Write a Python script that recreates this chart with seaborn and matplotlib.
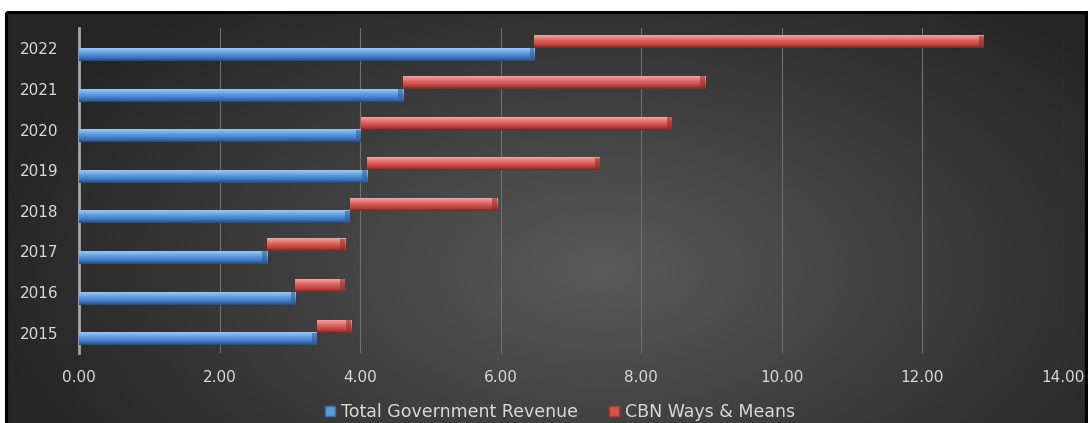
import numpy as np
import pandas as pd
import matplotlib
matplotlib.use("Agg")
import matplotlib.pyplot as plt
import seaborn as sns
from matplotlib.colors import LinearSegmentedColormap
from matplotlib.patches import Rectangle, Patch

# data
years = ["2015", "2016", "2017", "2018", "2019", "2020", "2021", "2022"]
revenue = [3.38, 3.08, 2.68, 3.85, 4.10, 4.01, 4.61, 6.48]
ways_means = [0.49, 0.71, 1.11, 2.10, 3.31, 4.42, 4.30, 6.40]
series = ["Total Government Revenue", "CBN Ways & Means"]
xticks = [0, 2, 4, 6, 8, 10, 12, 14]

df = pd.DataFrame({
    "year": years * 2,
    "series": [series[0]] * len(years) + [series[1]] * len(years),
    "value": revenue + ways_means,
})

sns.set_theme(style="dark")
plt.rcParams["font.family"] = ["DejaVu Sans"]

W, H = 1090, 423
fig = plt.figure(figsize=(W / 100, H / 100), dpi=100)
fig.patch.set_facecolor("white")

# dark radial gradient background inside a black frame
bg = fig.add_axes([0, 0, 1, 1], zorder=-10)
bg.set_xlim(0, W)
bg.set_ylim(H, 0)
bg.axis("off")
yy, xx = np.mgrid[0:H, 0:W]
r = np.sqrt(((xx - 600) / 640) ** 2 + ((yy - 270) / 360) ** 2)
shade = np.clip(1 - r, 0, 1) ** 1.1
bg_cmap = LinearSegmentedColormap.from_list("bg", ["#252525", "#5a5a5a"])
frame = Rectangle((6, 12), 1080, 420, facecolor="none", edgecolor="black", lw=2.2)
bg.add_patch(frame)
im = bg.imshow(shade, cmap=bg_cmap, extent=[0, W, H, 0], aspect="auto")
im.set_clip_path(Rectangle((6, 12), 1080, 420, transform=bg.transData))

# plot area
ax = fig.add_axes([79 / W, (H - 353) / H, (1063 - 79) / W, (353 - 28) / H])
ax.patch.set_alpha(0)

order = years[::-1]
sns.barplot(data=df, x="value", y="year", hue="series", order=order,
            hue_order=[series[1], series[0]], palette=["#d9534f", "#5b9bd5"],
            dodge=True, width=0.62, saturation=1, legend=False, ax=ax,
            orient="h", errorbar=None)

blue_cmap = LinearSegmentedColormap.from_list(
    "b", ["#9cc6f2", "#7fb2ea", "#5e9be0", "#4a86cf", "#3a6db0", "#244a7c"])
red_cmap = LinearSegmentedColormap.from_list(
    "r", ["#f2a3a0", "#e88783", "#dc6662", "#cf504c", "#b03d39", "#7a2522"])
grad = np.linspace(0, 1, 64).reshape(-1, 1)

# red bars start where the blue bar of the same year ends
for p in list(ax.patches):
    y0, h = p.get_y(), p.get_height()
    idx = int(round(y0 + h / 2))
    yr = order[idx]
    is_red = (y0 + h / 2) < idx
    if is_red:
        p.set_x(revenue[years.index(yr)])
    x0, w = p.get_x(), p.get_width()
    p.set_alpha(0)
    ax.imshow(grad, cmap=red_cmap if is_red else blue_cmap,
              extent=[x0, x0 + w, y0 + h, y0], aspect="auto", zorder=3,
              interpolation="bilinear")
    # small bevelled end cap
    cap = 0.07
    ax.add_patch(Rectangle((x0 + w - cap, y0), cap, h,
                           facecolor="#8a2d2a" if is_red else "#2e5c96",
                           edgecolor="none", alpha=0.55, zorder=4))

ax.set_xlim(0, 14)
ax.set_ylim(len(years) - 0.5, -0.5)
ax.set_xticks(xticks)
ax.set_xticklabels([f"{t:.2f}" for t in xticks])
ax.grid(axis="x", color="#707070", lw=0.8)
ax.grid(axis="y", visible=False)
ax.set_axisbelow(True)
ax.set_xlabel("")
ax.set_ylabel("")
for s in ["top", "right", "bottom"]:
    ax.spines[s].set_visible(False)
ax.spines["left"].set_color("#a6a6a6")
ax.spines["left"].set_linewidth(2)
ax.tick_params(axis="x", length=0, pad=12, labelsize=11, labelcolor="#d9d9d9")
ax.tick_params(axis="y", length=0, pad=15, labelsize=11, labelcolor="#d9d9d9")

handles = [Patch(facecolor="#5b9bd5", edgecolor="#3a6db0"),
           Patch(facecolor="#d9534f", edgecolor="#a83a36")]
leg = fig.legend(handles, series, loc="center", bbox_to_anchor=(560 / W, 1 - 412 / H),
                 ncol=2, frameon=False, fontsize=12.5, handlelength=0.55,
                 handleheight=0.55, handletextpad=0.35, columnspacing=1.8)
for t in leg.get_texts():
    t.set_color("#d9d9d9")

fig.savefig("out.png", dpi=100, facecolor=fig.get_facecolor())
